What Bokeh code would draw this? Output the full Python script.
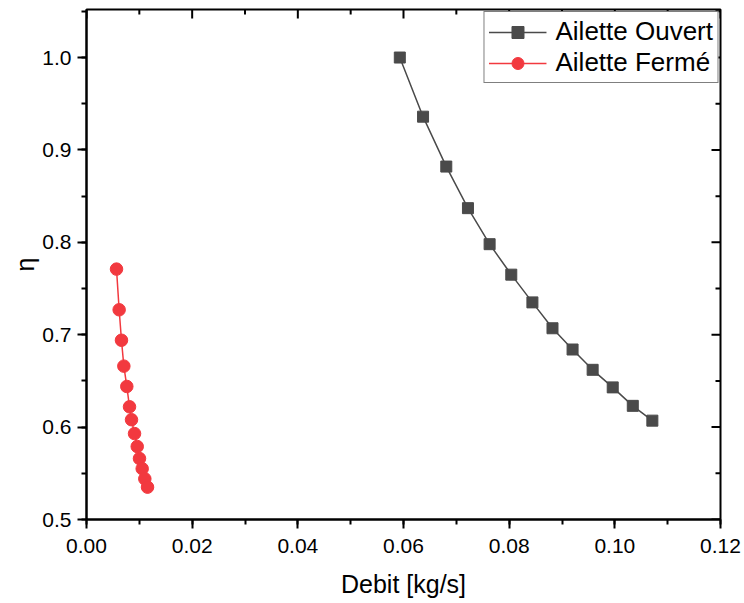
import math
from bokeh.plotting import figure
from bokeh.models import (LinearAxis, SingleIntervalTicker, NumeralTickFormatter,
                          Range1d, Legend, LegendItem)
from bokeh.embed import file_html
from bokeh.resources import INLINE

# Data
ouvert_x = [0.0593, 0.0637, 0.0681, 0.0722, 0.0763, 0.0804, 0.0844,
            0.0882, 0.0920, 0.0958, 0.0996, 0.1034, 0.1071]
ouvert_y = [1.000, 0.936, 0.882, 0.837, 0.798, 0.765, 0.735,
            0.707, 0.684, 0.662, 0.643, 0.623, 0.607]

ferme_x = [0.00568, 0.00618, 0.00662, 0.00707, 0.00763, 0.00814, 0.00852,
           0.00909, 0.00960, 0.01003, 0.01054, 0.01104, 0.01155]
ferme_y = [0.771, 0.727, 0.694, 0.666, 0.644, 0.622, 0.608,
           0.593, 0.579, 0.566, 0.555, 0.544, 0.535]

x_label = "Debit [kg/s]"
y_label = "η"
series_names = ["Ailette Ouvert", "Ailette Fermé"]

# tick positions for the inward ticks of the top and right frame edges
x_major_ticks = [0.0, 0.02, 0.04, 0.06, 0.08, 0.10, 0.12]
x_minor_ticks = [0.01, 0.03, 0.05, 0.07, 0.09, 0.11]
y_major_ticks = [0.5, 0.6, 0.7, 0.8, 0.9, 1.0]
y_minor_ticks = [0.55, 0.65, 0.75, 0.85, 0.95, 1.05]

X_MIN, X_MAX = 0.0, 0.12
Y_MIN, Y_MAX = 0.5, 1.052

FONT = "Liberation Sans"
GRAY = "#4a4a4a"
RED = "#f2393f"

p = figure(width=744, height=603, output_backend="svg", toolbar_location=None,
           x_range=Range1d(X_MIN, X_MAX), y_range=Range1d(Y_MIN, Y_MAX),
           x_axis_location=None, y_axis_location=None,
           min_border_left=86, min_border_right=24, min_border_top=9,
           min_border_bottom=84)
p.grid.visible = False
p.outline_line_color = "black"
p.outline_line_width = 2
p.background_fill_color = "white"
p.border_fill_color = "white"

xt = SingleIntervalTicker(interval=0.02, num_minor_ticks=2)
yt = SingleIntervalTicker(interval=0.1, num_minor_ticks=2)


def style(ax):
    ax.axis_line_width = 2
    ax.axis_line_color = "black"
    ax.major_tick_line_width = 2
    ax.minor_tick_line_width = 2
    ax.major_tick_line_color = "black"
    ax.minor_tick_line_color = "black"
    ax.major_tick_in = 0
    ax.major_tick_out = 9
    ax.minor_tick_in = 0
    ax.minor_tick_out = 5
    ax.major_label_text_font = FONT
    ax.major_label_text_font_size = "21px"
    ax.major_label_text_color = "black"
    ax.axis_label_text_font = FONT
    ax.axis_label_text_font_size = "25px"
    ax.axis_label_text_font_style = "normal"
    ax.axis_label_text_color = "black"


xb = LinearAxis(ticker=xt, formatter=NumeralTickFormatter(format="0.00"),
                axis_label=x_label)
style(xb)
xb.major_label_standoff = 10
xb.axis_label_standoff = 14
p.add_layout(xb, "below")

yl = LinearAxis(ticker=yt, formatter=NumeralTickFormatter(format="0.0"),
                axis_label=y_label)
style(yl)
yl.major_label_standoff = 6
yl.axis_label_standoff = 0
p.add_layout(yl, "left")

# inward ticks on top and right edges
p.ray(x=x_major_ticks, y=[Y_MAX] * len(x_major_ticks), length=9,
      length_units="screen", angle=-math.pi / 2, line_color="black", line_width=2)
p.ray(x=x_minor_ticks, y=[Y_MAX] * len(x_minor_ticks), length=5,
      length_units="screen", angle=-math.pi / 2, line_color="black", line_width=2)
p.ray(x=[X_MAX] * len(y_major_ticks), y=y_major_ticks, length=9,
      length_units="screen", angle=math.pi, line_color="black", line_width=2)
p.ray(x=[X_MAX] * len(y_minor_ticks), y=y_minor_ticks, length=5,
      length_units="screen", angle=math.pi, line_color="black", line_width=2)

l1 = p.line(ouvert_x, ouvert_y, line_color=GRAY, line_width=1.5)
m1 = p.scatter(ouvert_x, ouvert_y, marker="square", size=11,
               fill_color=GRAY, line_color=GRAY)
l2 = p.line(ferme_x, ferme_y, line_color=RED, line_width=1.5)
m2 = p.scatter(ferme_x, ferme_y, marker="circle", size=12.5,
               fill_color=RED, line_color=RED)

legend = Legend(items=[LegendItem(label=series_names[0], renderers=[l1, m1]),
                       LegendItem(label=series_names[1], renderers=[l2, m2])],
                location="top_right", margin=2)
legend.label_text_font = FONT
legend.label_text_font_size = "26px"
legend.label_text_color = "black"
legend.glyph_width = 58
legend.glyph_height = 30
legend.label_height = 30
legend.label_standoff = 9
legend.spacing = 0
legend.padding = 4
legend.border_line_color = "black"
legend.border_line_width = 1
legend.background_fill_color = "white"
legend.background_fill_alpha = 1
p.add_layout(legend)

open("out.html", "w").write(file_html(p, INLINE))
